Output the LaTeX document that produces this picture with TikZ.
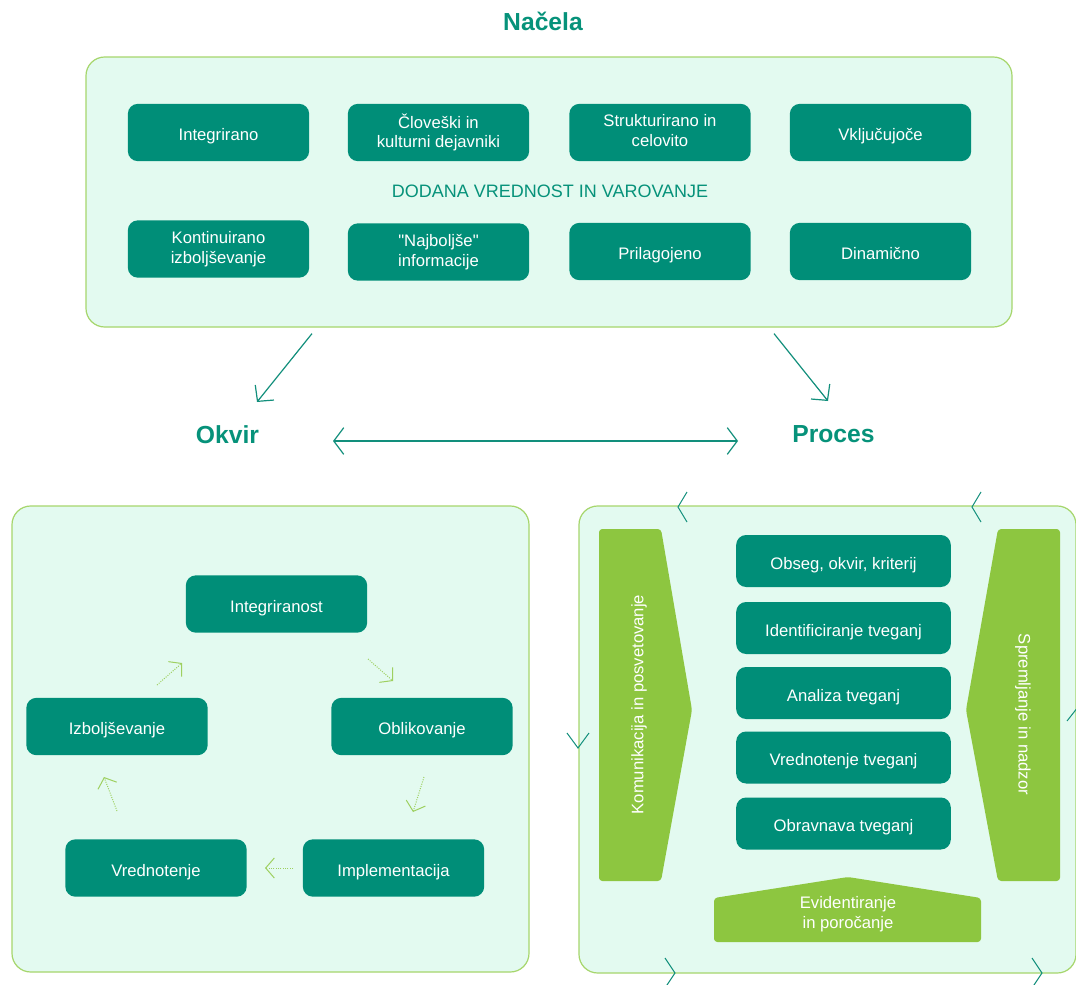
\documentclass[tikz,border=0pt]{standalone}
\usepackage{fontspec}
\setmainfont{Liberation Sans}[Ligatures=TeXOff]
\usepackage{xcolor}
\usetikzlibrary{arrows.meta,calc}

\definecolor{tealdark}{RGB}{0,142,120}
\definecolor{tealtext}{RGB}{6,146,122}
\definecolor{mintbg}{RGB}{227,250,240}
\definecolor{mintline}{RGB}{166,214,108}
\definecolor{leafgreen}{RGB}{141,198,64}
\definecolor{dotgreen}{RGB}{158,208,96}
\definecolor{arrowteal}{RGB}{18,143,124}

\newcommand{\boxstrut}{\leavevmode\vrule height 1.2em depth 0.21em width 0pt}

\begin{document}
\begin{tikzpicture}[x=0.75pt,y=0.75pt,yscale=-1,xscale=1,
  panel/.style={draw=mintline, line width=0.9pt, fill=mintbg, rounded corners=14pt, inner sep=0pt},
  tealbox/.style={fill=tealdark, text=white, rounded corners=7.5pt, inner sep=0pt, align=center,
    minimum width=136pt, minimum height=43pt, font=\fontsize{12.5}{14.8}\selectfont,
    execute at begin node=\boxstrut},
  stepbox/.style={tealbox, minimum width=161pt, minimum height=39pt},
  heading/.style={text=tealtext, inner sep=0pt, font=\fontsize{18.5}{22}\selectfont\bfseries},
  leaf/.style={fill=leafgreen, rounded corners=2.5pt},
  leaftext/.style={text=white, align=center, inner sep=0pt, font=\fontsize{12.5}{14.8}\selectfont},
  bigarrow/.style={draw=arrowteal, line width=0.9pt, -{Straight Barb[length=8.5pt,width=18pt]}},
  linkarrow/.style={draw=arrowteal, line width=0.9pt,
    {Straight Barb[length=7.5pt,width=20pt]}-{Straight Barb[length=7.5pt,width=20pt]}},
  cyclearrow/.style={draw=dotgreen, line width=0.75pt, densely dotted, -{Straight Barb[length=6.5pt,width=15pt]}},
  chevron/.style={draw=arrowteal, line width=0.75pt}
]
%set diagram area: 1076 x 985
\useasboundingbox (0,0) rectangle (1076,985);
\clip (0,0) rectangle (1076,985);
\fill[white] (0,0) rectangle (1076,985);

%Shape: Rounded Rectangle (Nacela)
\node[panel, minimum width=694.5pt, minimum height=202.5pt] (nacela) at (549,192) {};
% Text Node
\node[heading] (naslov) at (543,21.5) {Načela};

% Text Node
\node[tealbox] (integrirano) at (218.5,132.5) {Integrirano};
\node[tealbox] (cloveski) at (438.5,132.5) {Človeški in\\kulturni dejavniki};
\node[tealbox] (strukturirano) at (660,132.5) {Strukturirano in\\celovito};
\node[tealbox] (vkljucujoce) at (880.5,132.5) {Vključujoče};
\node[text=tealtext, inner sep=0pt, font=\fontsize{13.5}{16}\selectfont] (dodana) at (550,191) {DODANA VREDNOST IN VAROVANJE};
\node[tealbox] (kontinuirano) at (218.5,249) {Kontinuirano\\izboljševanje};
\node[tealbox] (najboljse) at (438.5,252) {"Najboljše"\\informacije};
\node[tealbox] (prilagojeno) at (660,251.5) {Prilagojeno};
\node[tealbox] (dinamicno) at (880.5,251.5) {Dinamično};

% Text Node
\node[heading] (okvir) at (227.5,434.5) {Okvir};
\node[heading] (proces) at (833.5,434.5) {Proces};

%Straight Lines
\draw[bigarrow] ($(nacela.south)+(-237,6)$) -- ($(okvir.center)+(29.5,-32.5)$);
\draw[bigarrow] ($(nacela.south)+(225,6)$) -- ($(proces.center)+(-5.5,-33.5)$);
\draw[linkarrow] ($(okvir.center)+(105.5,6.5)$) -- ($(proces.center)+(-95.5,6.5)$);

%Shape: Rounded Rectangle (Okvir)
\node[panel, minimum width=387.75pt, minimum height=349.5pt] (okvirpanel) at (270.5,739) {};
\node[tealbox] (integriranost) at (276.5,604) {Integriranost};
\node[tealbox] (izboljsevanje) at (117,726.5) {Izboljševanje};
\node[tealbox] (oblikovanje) at (422,726.5) {Oblikovanje};
\node[tealbox] (vrednotenje) at (156,868) {Vrednotenje};
\node[tealbox] (implementacija) at (393.5,868) {Implementacija};

%Dotted Lines
\draw[cyclearrow] ($(izboljsevanje.center)+(40,-41.5)$) -- ($(integriranost.center)+(-94.5,59)$);
\draw[cyclearrow] ($(integriranost.center)+(91.5,55)$) -- ($(oblikovanje.center)+(-29,-45.5)$);
\draw[cyclearrow] ($(oblikovanje.center)+(2,50.5)$) -- ($(implementacija.center)+(19.5,-56)$);
\draw[cyclearrow] ($(implementacija.center)+(-100.5,0)$) -- ($(vrednotenje.center)+(109,0)$);
\draw[cyclearrow] ($(vrednotenje.center)+(-39,-57)$) -- ($(izboljsevanje.center)+(-13,50.5)$);

%Shape: Rounded Rectangle (Proces)
\node[panel, minimum width=372.75pt, minimum height=350.25pt] (procespanel) at (827.5,739.5) {};
\draw[chevron] (687,492) -- (678,507) -- (687,522);
\draw[chevron] (981,492) -- (972,507) -- (981,522);
\draw[chevron] (665,958) -- (675,973) -- (665,988);
\draw[chevron] (1032,958) -- (1042,973) -- (1032,988);
\draw[chevron] (567,733) -- (578,748) -- (589,733);
\draw[chevron] (1067,721) -- (1078,707) -- (1089,721);

%Shape: Polygon
\fill[leaf] (599,529) -- (661,529) -- (692,710) -- (661,881) -- (599,881) -- cycle;
\fill[leaf] (1060,529) -- (998,529) -- (966,710) -- (998,881) -- (1060,881) -- cycle;
\fill[leaf] (714,898) -- (848,877) -- (981,898) -- (981,942) -- (714,942) -- cycle;
% Text Node
\node[leaftext, rotate=90] (komunikacija) at (639,704.5) {Komunikacija in posvetovanje};
\node[leaftext, rotate=-90] (spremljanje) at (1023,714.5) {Spremljanje in nadzor};
\node[leaftext] (evidentiranje) at (848,914) {Evidentiranje\\in poročanje};

\node[stepbox] (obseg) at (843.5,561) {Obseg, okvir, kriterij};
\node[stepbox] (identificiranje) at (843.5,628) {Identificiranje tveganj};
\node[stepbox] (analiza) at (843.5,693) {Analiza tveganj};
\node[stepbox] (vrednotenjet) at (843.5,757.5) {Vrednotenje tveganj};
\node[stepbox] (obravnava) at (843.5,823.5) {Obravnava tveganj};

\end{tikzpicture}
\end{document}
